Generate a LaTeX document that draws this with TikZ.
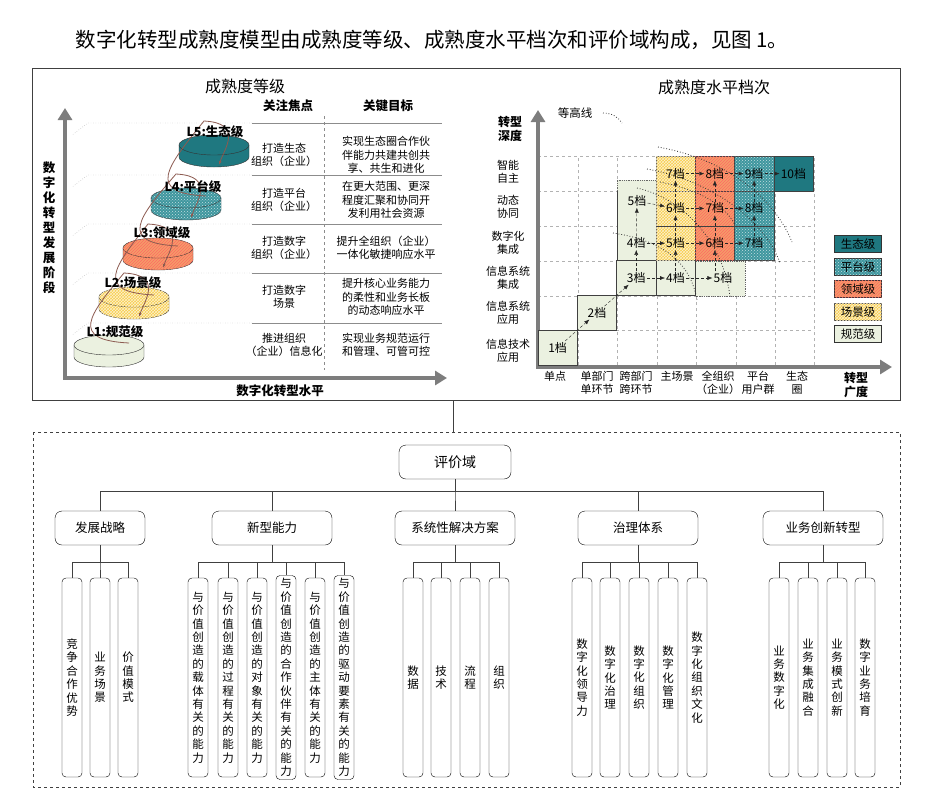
\documentclass[tikz,border=0pt]{standalone}
\usepackage{fontspec}
\setmainfont{Noto Sans CJK SC}
\XeTeXlinebreaklocale "zh"
\XeTeXlinebreakskip=0pt plus 1pt
\usetikzlibrary{patterns,arrows.meta,positioning}

\definecolor{ecoteal}{RGB}{31,120,128}
\definecolor{platteal}{RGB}{62,150,158}
\definecolor{domorange}{RGB}{244,158,104}
\definecolor{scenyellow}{RGB}{247,205,78}
\definecolor{normgreen}{RGB}{235,241,224}
\definecolor{axisgray}{RGB}{125,125,125}
\definecolor{loopbrown}{RGB}{140,90,80}

% disc: centre x, centre y, fill options
\newcommand\disc[3]{%
  \path[draw=black!80,#3] (#1-35,#2) -- (#1-35,#2+12)
    arc[start angle=180,end angle=0,x radius=35,y radius=10] -- (#1+35,#2) -- cycle;
  \path[draw=black!80,#3] (#1,#2) ellipse[x radius=35,y radius=10];}

\begin{document}
\begin{tikzpicture}[x=1pt,y=-1pt,font=\fontsize{11.5}{14}\selectfont]

%
% Styles
%
\tikzset{
  axis/.style={axisgray,line width=4pt,-{Triangle[length=12pt,width=14pt]}},
  ecofill/.style={fill=ecoteal},
  platfill/.style={fill=platteal,postaction={pattern=crosshatch dots,pattern color=white!70!platteal}},
  domfill/.style={fill=domorange,postaction={pattern=north east lines,pattern color=red!60}},
  scenfill/.style={fill=scenyellow,postaction={pattern=crosshatch,pattern color=white!70!scenyellow}},
  normfill/.style={fill=normgreen},
  cell/.style={draw=black!75,minimum width=39.3pt,minimum height=34.8pt,inner sep=0pt},
  lbl/.style={inner sep=1pt,font=\fontsize{12}{14}\selectfont},
  flow/.style={densely dashed,black!85,-{Latex[length=5pt,width=4pt]}},
  contour/.style={dotted,thick,black!80},
  legend/.style={draw=black!80,minimum width=47pt,minimum height=17pt,inner sep=0pt},
  root/.style={draw,rounded corners=7pt,minimum width=112pt,minimum height=34pt,font=\fontsize{14}{16}\selectfont},
  cat/.style={draw,rounded corners=7pt,minimum height=34pt,font=\fontsize{12.5}{15}\selectfont},
  leaf/.style={draw,rounded corners=4pt,minimum width=20pt,minimum height=199pt,text width=13pt,
    align=center,inner sep=3pt,font=\fontsize{11.5}{13.4}\selectfont}
}

\useasboundingbox[fill=white] (0,0) rectangle (940,804);

\node (cap) at (432,40) {\fontsize{20.5}{24}\selectfont 数字化转型成熟度模型由成熟度等级、成熟度水平档次和评价域构成，见图 1。};
\draw[black!75] (32,68) rectangle (900,400);
\coordinate (topfoot) at (453,400);

% left panel
\node at (245,86) {\fontsize{16}{18}\selectfont 成熟度等级};
\draw[axis] (65,378) -- (65,108);
\draw[axis] (63,378) -- (447,378);
\node[text width=13pt,align=center,font=\fontsize{12.5}{15}\selectfont\bfseries] at (49,228) {数字化转型发展阶段};
\node[font=\fontsize{12.5}{15}\selectfont\bfseries] at (280,391) {数字化转型水平};
\foreach \y in {123,175,224,273,323} {
  \draw[dotted,black!45] (252,\y) -- (88,\y) -- (72,\y+12);
  \draw[black!45,thick] (252,\y) -- (442,\y);
}
\draw[dashed,black!45] (324,116) -- (324,370);
\node[font=\fontsize{12.5}{15}\selectfont\bfseries] at (288,106) {关注焦点};
\node[font=\fontsize{12.5}{15}\selectfont\bfseries] at (388,106) {关键目标};
\foreach \y/\f/\g in {155/打造生态\\组织（企业）/实现生态圈合作伙\\伴能力共建共创共\\享、共生和进化,
  200/打造平台\\组织（企业）/在更大范围、更深\\程度汇聚和协同开\\发利用社会资源,
  248/打造数字\\组织（企业）/提升全组织（企业）\\一体化敏捷响应水平,
  297/打造数字\\场景/提升核心业务能力\\的柔性和业务长板\\的动态响应水平,
  345/推进组织\\（企业）信息化/实现业务规范运行\\和管理、可管可控} {
  \node[align=center,font=\fontsize{11}{13.5}\selectfont] at (284,\y) {\f};
  \node[align=center,font=\fontsize{11}{13.5}\selectfont] at (386,\y) {\g};
}
\disc{109}{345}{normfill}
\disc{134}{297}{scenfill}
\disc{158}{248}{domfill}
\disc{186}{198}{platfill}
\disc{214}{145}{ecofill}
\foreach \cx/\cy/\nx/\ny in {109/345/134/297,134/297/158/248,158/248/186/198,186/198/214/145}
  \draw[loopbrown,thick,-{Latex[length=4pt]}] (\cx+20,\cy-2) .. controls (\cx-40,\cy-5) and (\cx-20,\cy-30) .. (\nx-10,\ny-24)
    .. controls (\nx+30,\ny-22) and (\nx+10,\ny+5) .. (\nx+5,\ny+20);
\foreach \x/\y/\t in {115/332/L1:规范级,133/283/L2:场景级,162/233/L3:领域级,193/187/L4:平台级,215/132/L5:生态级}
  \node[font=\fontsize{12.5}{15}\selectfont\bfseries] at (\x,\y) {\t};

% right panel
\node at (714,87) {\fontsize{16}{18}\selectfont 成熟度水平档次};
\foreach \y in {330,296,261,226,191,156} \draw[dashed,black!30] (538,\y) -- (814,\y);
\foreach \x in {578,617,657,696,736,775,814} \draw[dashed,black!30] (\x,365) -- (\x,156);
\draw[axis] (538,367) -- (538,110);
\draw[axis] (536,367) -- (892,367);
\fill[normgreen] (617,180) -- (657,180) -- (657,261) -- (745,261) -- (745,296) -- (617,296) -- cycle;
\draw[densely dotted,thick,black!60] (617,191) -- (617,180) -- (657,180) (696,261) -- (745,261) -- (745,296) -- (696,296);
\draw[black!75] (617,296) -- (617,191) (657,261) -- (657,296);
\foreach \i/\j/\s in {0/0/normfill,1/1/normfill,2/2/normfill,3/2/normfill,
  3/3/scenfill,3/4/scenfill,3/5/scenfill,4/3/domfill,4/4/domfill,4/5/domfill,
  5/3/platfill,5/4/platfill,5/5/platfill,6/5/ecofill}
  \node[cell,\s] (c-\i-\j) at ({538+39.3*(\i+.5)},{365-34.8*(\j+.5)}) {};
\foreach \i/\j/\t in {0/0/1,1/1/2,2/2/3,3/2/4,2/3/4,3/3/5,3/4/6,3/5/7,4/3/6,4/4/7,4/5/8,5/3/7,5/4/8,5/5/9,6/5/10}
  \node[lbl] (t-\i-\j) at ({538+39.3*(\i+.5)},{365-34.8*(\j+.5)}) {\t 档};
\node[lbl] (t-4-2) at (723,278) {5档};
\node[lbl] (t-2-4) at (637,201) {5档};
\foreach \a/\b in {t-2-2/t-3-2,t-3-2/t-4-2,t-2-3/t-3-3,t-3-3/t-4-3,t-4-3/t-5-3,
  t-2-4/t-3-4,t-3-4/t-4-4,t-4-4/t-5-4,t-3-5/t-4-5,t-4-5/t-5-5,t-5-5/t-6-5,
  t-2-2/t-2-3,t-2-3/t-2-4,t-3-2/t-3-3,t-3-3/t-3-4,t-3-4/t-3-5,
  t-4-3/t-4-4,t-4-4/t-4-5,t-5-3/t-5-4,t-5-4/t-5-5}
  \draw[flow] (\a) -- (\b);
\draw[flow] (t-0-0) -- (t-1-1);
\draw[flow] (t-1-1) -- (t-2-2);
\draw[flow] (t-4-2.north -| t-4-3) -- (t-4-3);
\draw[contour] (613,233) .. controls (660,240) and (690,260) .. (697,300);
\draw[contour] (637,188) .. controls (690,200) and (725,250) .. (730,297);
\draw[contour] (647,169) .. controls (710,180) and (765,220) .. (780,263);
\draw[contour] (658,147) .. controls (730,160) and (775,200) .. (792,242);
\draw[contour] (660,182) .. controls (700,190) and (725,205) .. (735,225);
\node (isoline) at (575,113) {等高线};
\draw[contour] (603,113) .. controls (612,113) and (618,117) .. (622,123);
\node[align=center,font=\fontsize{12}{14}\selectfont\bfseries] at (510,129) {转型\\深度};
\foreach \y/\t in {172/智能\\自主,207/动态\\协同,243/数字化\\集成,278/信息系统\\集成,313/信息系统\\应用,351/信息技术\\应用}
  \node[align=center,font=\fontsize{11}{13.5}\selectfont] at (508,\y) {\t};
\foreach \x/\y/\t in {555/376/单点,597/383/单部门\\单环节,636/383/跨部门\\跨环节,677/376/主场景,
  718/383/全组织\\（企业）,758/383/平台\\用户群,797/383/生态\\圈}
  \node[align=center,font=\fontsize{11}{13.5}\selectfont] at (\x,\y) {\t};
\node[align=center,font=\fontsize{12}{14}\selectfont\bfseries] at (856,385) {转型\\广度};
\foreach \y/\s/\t in {244/ecofill/生态级,267/platfill/平台级,289/domfill/领域级,312/scenfill/场景级,334/normfill/规范级}
  \node[legend,\s] at (858,\y) {\t};

% evaluation domain
\draw[dashed,black!75] (33,432) rectangle (900,787);
\coordinate (boxhead) at (453,432);
\draw[black!75] (topfoot) -- (boxhead);
\node[root] (domain) at (455,462) {评价域};
\node[cat,minimum width=90pt] (strategy) at (100,528) {发展战略};
\node[cat,minimum width=120pt] (ability) at (272,528) {新型能力};
\node[cat,minimum width=120pt] (solution) at (455,528) {系统性解决方案};
\node[cat,minimum width=120pt] (govern) at (638,528) {治理体系};
\node[cat,minimum width=120pt] (business) at (823,528) {业务创新转型};
\foreach \c in {strategy,ability,solution,govern,business}
  \draw[black!75] (domain.south) -- ++(0,12) -| (\c.north);
\foreach \c/\x/\n/\t in {strategy/72/s1/竞争合作优势,strategy/100/s2/业务场景,strategy/128/s3/价值模式,
  ability/198/a1/与价值创造的载体有关的能力,ability/228/a2/与价值创造的过程有关的能力,
  ability/257/a3/与价值创造的对象有关的能力,ability/286/a4/与价值创造的合作伙伴有关的能力,
  ability/315/a5/与价值创造的主体有关的能力,ability/344/a6/与价值创造的驱动要素有关的能力,
  solution/413/p1/数据,solution/441/p2/技术,solution/470/p3/流程,solution/499/p4/组织,
  govern/582/g1/数字化领导力,govern/610/g2/数字化治理,govern/639/g3/数字化组织,
  govern/668/g4/数字化管理,govern/697/g5/数字化组织文化,
  business/779/b1/业务数字化,business/808/b2/业务集成融合,business/837/b3/业务模式创新,business/865/b4/数字业务培育} {
  \node[leaf] (\n) at (\x,677.5) {\t};
  \draw[black!75] (\c.south) -- ++(0,17) -| (\n.north);
}

\end{tikzpicture}
\end{document}
